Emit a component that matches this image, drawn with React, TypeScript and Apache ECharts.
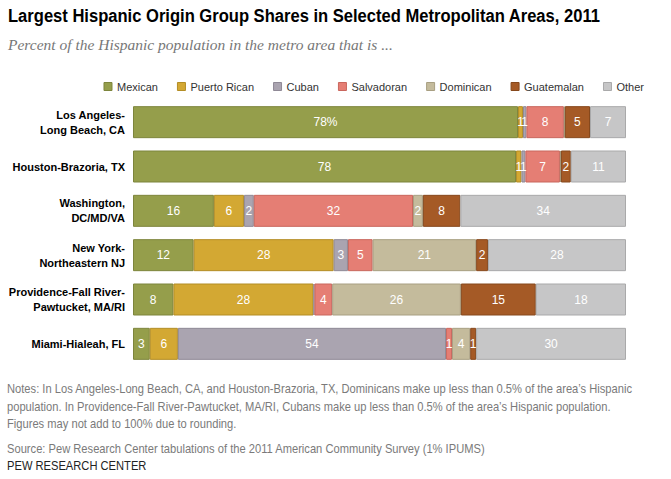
import React, { useEffect, useRef } from "react";
import * as echarts from "echarts";

const categories = [
  "Los Angeles-\nLong Beach, CA",
  "Houston-Brazoria, TX",
  "Washington,\nDC/MD/VA",
  "New York-\nNortheastern NJ",
  "Providence-Fall River-\nPawtucket, MA/RI",
  "Miami-Hialeah, FL",
];

const seriesNames = ["Mexican", "Puerto Rican", "Cuban", "Salvadoran", "Dominican", "Guatemalan", "Other"];

const mexican = [78.1, 77.7, 16.4, 12.3, 8.2, 3.4];
const puertoRican = [1.0, 1.1, 6.1, 28.4, 28.4, 5.7];
const cuban = [0.7, 0.8, 2.0, 2.9, 0.2, 54.4];
const salvadoran = [7.6, 7.0, 32.3, 5.0, 3.6, 1.2];
const dominican = [0.2, 0.2, 2.0, 21.0, 26.1, 3.7];
const guatemalan = [5.1, 2.0, 7.6, 2.4, 15.2, 1.2];
const other = [7.3, 11.2, 33.6, 28.0, 18.3, 30.4];

const seriesValues = [mexican, puertoRican, cuban, salvadoran, dominican, guatemalan, other];

const colors = ["#959e4b", "#d3a833", "#aaa4b0", "#e57e74", "#c4bb9c", "#a55a26", "#c6c6c7"];
const borders = ["#7d853c", "#b38d25", "#8f8996", "#c9665d", "#a89f82", "#86481c", "#a9a9aa"];

const titleText = "Largest Hispanic Origin Group Shares in Selected Metropolitan Areas, 2011";
const subtitleText = "Percent of the Hispanic population in the metro area that is ...";
const notesLines = [
  "Notes: In Los Angeles-Long Beach, CA, and Houston-Brazoria, TX, Dominicans make up less than 0.5% of the area\u2019s Hispanic",
  "population. In Providence-Fall River-Pawtucket, MA/RI, Cubans make up less than 0.5% of the area\u2019s Hispanic population.",
  "Figures may not add to 100% due to rounding.",
];
const sourceText = "Source: Pew Research Center tabulations of the 2011 American Community Survey (1% IPUMS)";
const brandText = "PEW RESEARCH CENTER";

const SANS = '"Liberation Sans", Arial, sans-serif';

export default function App() {
  const ref = useRef<HTMLDivElement>(null);
  useEffect(() => {
    if (!ref.current) return;
    const chart = echarts.init(ref.current, undefined, { renderer: "svg" });
    const series = seriesNames.map((name, si) => ({
      name,
      type: "bar" as const,
      stack: "total",
      barWidth: 32,
      data: seriesValues[si],
      itemStyle: { color: colors[si], borderColor: borders[si], borderWidth: 1 },
      label: {
        show: true,
        position: "inside" as const,
        color: "#ffffff",
        fontFamily: SANS,
        fontSize: 12,
        formatter: (p: any) => {
          const v = Math.round(p.value);
          if (v < 1) return "";
          if (si === 0 && p.dataIndex === 0) return v + "%";
          return String(v);
        },
      },
    }));
    const graphic: any[] = [
      {
        type: "text",
        x: 8,
        y: 6,
        scaleX: 0.872,
        style: { text: titleText, font: `bold 19px ${SANS}`, fill: "#000000", verticalAlign: "top" },
      },
      {
        type: "text",
        x: 8,
        y: 36,
        style: {
          text: subtitleText,
          font: 'italic 15.5px "Liberation Serif", "DejaVu Serif", serif',
          fill: "#777777",
          verticalAlign: "top",
        },
      },
    ];
    notesLines.forEach((t, i) => {
      graphic.push({
        type: "text",
        x: 7,
        y: 383 + i * 17.5,
        scaleX: 0.93,
        style: { text: t, font: `12px ${SANS}`, fill: "#7a7a7a", verticalAlign: "top" },
      });
    });
    graphic.push({
      type: "text",
      x: 7,
      y: 443,
      scaleX: 0.93,
      style: { text: sourceText, font: `12px ${SANS}`, fill: "#7a7a7a", verticalAlign: "top" },
    });
    graphic.push({
      type: "text",
      x: 7,
      y: 460,
      scaleX: 0.93,
      style: { text: brandText, font: `12px ${SANS}`, fill: "#222222", verticalAlign: "top" },
    });
    chart.setOption({
      animation: false,
      backgroundColor: "#ffffff",
      grid: { left: 133, right: 45, top: 100, bottom: 113, outerBoundsMode: "none" },
      legend: {
        data: seriesNames.map((n, i) => ({
          name: n,
          icon: "rect",
          itemStyle: { color: colors[i], borderColor: borders[i], borderWidth: 1 },
        })),
        right: 22,
        top: 76,
        itemWidth: 8,
        itemHeight: 8,
        itemGap: 19,
        textStyle: { fontFamily: SANS, fontSize: 11, color: "#333333" },
        selectedMode: false,
      },
      xAxis: { type: "value", min: 0, max: 100, show: false },
      yAxis: {
        type: "category",
        data: categories,
        inverse: true,
        axisLine: { show: false },
        axisTick: { show: false },
        axisLabel: {
          fontFamily: SANS,
          fontWeight: "bold",
          fontSize: 11,
          color: "#000000",
          margin: 8,
          lineHeight: 15,
          align: "right",
        },
      },
      graphic,
      series,
    });
    return () => chart.dispose();
  }, []);
  return (
    <div
      ref={ref}
      style={{ position: "absolute", left: 0, top: 0, width: 671, height: 479 }}
    />
  );
}
